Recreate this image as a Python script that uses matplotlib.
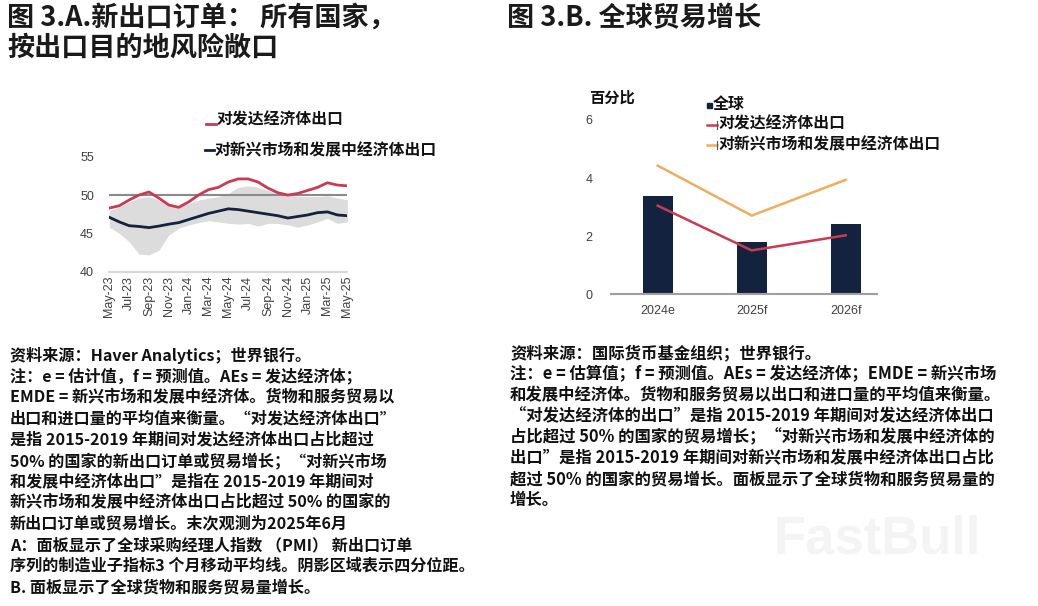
import matplotlib
matplotlib.use("Agg")
import matplotlib.pyplot as plt
from matplotlib.lines import Line2D

plt.rcParams['font.family'] = ['Noto Sans CJK SC', 'DejaVu Sans']

# ---------------- Data: panel A ----------------
months = ["May-23", "Jun-23", "Jul-23", "Aug-23", "Sep-23", "Oct-23", "Nov-23", "Dec-23",
          "Jan-24", "Feb-24", "Mar-24", "Apr-24", "May-24", "Jun-24", "Jul-24", "Aug-24",
          "Sep-24", "Oct-24", "Nov-24", "Dec-24", "Jan-25", "Feb-25", "Mar-25", "Apr-25", "May-25"]
ae_exports = [48.3, 48.6, 49.35, 50.0, 50.4, 49.6, 48.7, 48.4, 49.1, 50.0, 50.7, 51.0, 51.7,
              52.1, 52.1, 51.7, 50.9, 50.3, 50.0, 50.2, 50.6, 51.0, 51.6, 51.3, 51.2]
emde_exports = [47.1, 46.5, 46.0, 45.9, 45.75, 45.95, 46.2, 46.4, 46.8, 47.2, 47.6, 47.9, 48.2,
                48.1, 47.9, 47.7, 47.5, 47.3, 47.0, 47.2, 47.4, 47.7, 47.8, 47.4, 47.3]
iqr_upper = [48.0, 48.4, 49.1, 49.6, 49.8, 49.35, 48.7, 48.5, 48.9, 49.35, 49.6, 49.8, 50.2,
             51.0, 51.2, 51.0, 50.6, 50.2, 50.0, 49.8, 49.8, 49.8, 49.9, 49.6, 49.4]
iqr_lower = [45.8, 45.0, 43.9, 42.3, 42.2, 42.8, 44.8, 45.65, 46.1, 46.4, 46.65, 46.5, 46.3,
             46.2, 46.3, 45.95, 46.3, 46.3, 46.1, 45.8, 46.1, 46.5, 46.95, 46.3, 46.5]
yticks_a = [40, 45, 50, 55]

# ---------------- Data: panel B ----------------
years = ["2024e", "2025f", "2026f"]
world_growth = [3.4, 1.79, 2.41]
ae_growth = [3.05, 1.51, 2.03]
emde_growth = [4.43, 2.71, 3.94]
yticks_b = [0, 2, 4, 6]

RED = "#cc3a52"
NAVY = "#13233f"
ORANGE = "#efae5c"
BAND = "#dcdcdc"
TICK = "#404040"

W, H = 1038, 606
fig = plt.figure(figsize=(W / 100, H / 100), dpi=100)
fig.patch.set_facecolor("white")


def fx(px):
    return px / W


def fy(py):
    return 1 - py / H


# faint watermark
fig.text(fx(877), fy(540), "FastBull", fontsize=38, fontweight="bold", va="center",
         ha="center", color="#f4f4f4", family=["Liberation Sans"], zorder=0)

# ---------- Panel A ----------
axA = fig.add_axes([fx(109.3), fy(271.7), fx(238), 115 / H])
xs = list(range(len(months)))
axA.fill_between(xs, iqr_lower, iqr_upper, color=BAND, linewidth=0, zorder=1)
axA.axhline(50, color="#8a8a8a", linewidth=1.5, zorder=2)
axA.plot(xs, ae_exports, color=RED, linewidth=2.0, zorder=3)
axA.plot(xs, emde_exports, color=NAVY, linewidth=2.0, zorder=3)
axA.set_xlim(0, len(months) - 1)
axA.set_ylim(40, 55)
axA.set_yticks(yticks_a)
axA.set_yticklabels([str(v) for v in yticks_a], fontsize=9, color=TICK, family=["Liberation Sans"])
axA.set_xticks(xs[::2])
axA.set_xticklabels(months[::2], rotation=90, fontsize=9, color=TICK, family=["Liberation Sans"])
axA.tick_params(axis="both", length=0)
axA.tick_params(axis="y", pad=11)
axA.tick_params(axis="x", pad=3)
for s in ["top", "right", "left"]:
    axA.spines[s].set_visible(False)
axA.spines["bottom"].set_color("#d0d0d0")
axA.spines["bottom"].set_linewidth(1.2)
axA.set_facecolor("none")

# legend A
fig.add_artist(Line2D([fx(206), fx(216)], [fy(124), fy(124)], color=RED, linewidth=2))
fig.text(fx(216), fy(120), "对发达经济体出口", fontsize=11.4, fontweight="bold",
         va="center", ha="left", color="#111111")
fig.add_artist(Line2D([fx(205), fx(214)], [fy(150), fy(150)], color=NAVY, linewidth=2))
fig.text(fx(214), fy(150), "对新兴市场和发展中经济体出口", fontsize=11.4, fontweight="bold",
         va="center", ha="left", color="#111111")

# ---------- Panel B ----------
axB = fig.add_axes([fx(610.7), fy(294.3), fx(266), 174.3 / H])
xb = list(range(len(years)))
axB.bar(xb, world_growth, width=0.32, color=NAVY, zorder=2)
axB.plot(xb, ae_growth, color=RED, linewidth=1.8, zorder=3)
axB.plot(xb, emde_growth, color=ORANGE, linewidth=1.8, zorder=3)
axB.set_xlim(-0.5, 2.33)
axB.set_ylim(0, 6)
axB.set_yticks(yticks_b)
axB.set_yticklabels([str(v) for v in yticks_b], fontsize=9, color=TICK, family=["Liberation Sans"])
axB.set_xticks(xb)
axB.set_xticklabels(years, fontsize=9, color=TICK, family=["Liberation Sans"])
axB.tick_params(axis="both", length=0)
axB.tick_params(axis="y", pad=13)
axB.tick_params(axis="x", pad=8)
for s in ["top", "right", "left"]:
    axB.spines[s].set_visible(False)
axB.spines["bottom"].set_color("#a0a0a0")
axB.spines["bottom"].set_linewidth(1.5)
axB.set_facecolor("none")

fig.text(fx(589), fy(98), "百分比", fontsize=11, fontweight="bold", va="center", ha="left",
         color="#111111")
# legend B
fig.patches.append(plt.Rectangle((fx(706.5), fy(108)), fx(5), 5 / H, color=NAVY,
                                 transform=fig.transFigure, figure=fig))
fig.text(fx(713), fy(104), "全球", fontsize=11.4, fontweight="bold", va="center", ha="left",
         color="#111111")
fig.add_artist(Line2D([fx(707), fx(717)], [fy(125), fy(125)], color=RED, linewidth=1.8))
fig.add_artist(Line2D([fx(717), fx(717)], [fy(121), fy(129)], color="#555555", linewidth=0.8))
fig.text(fx(718), fy(124), "对发达经济体出口", fontsize=11.4, fontweight="bold", va="center",
         ha="left", color="#111111")
fig.add_artist(Line2D([fx(707), fx(717)], [fy(145), fy(145)], color=ORANGE, linewidth=1.8))
fig.add_artist(Line2D([fx(717), fx(717)], [fy(141), fy(149)], color="#555555", linewidth=0.8))
fig.text(fx(718), fy(144), "对新兴市场和发展中经济体出口", fontsize=11.4, fontweight="bold",
         va="center", ha="left", color="#111111")

# ---------- Titles ----------
fig.text(fx(7), fy(18), "图 3.A.新出口订单： 所有国家，", fontsize=19.5, fontweight="bold",
         va="center", ha="left", color="#1a1a1a")
fig.text(fx(7), fy(48), "按出口目的地风险敞口", fontsize=19.5, fontweight="bold",
         va="center", ha="left", color="#1a1a1a")
fig.text(fx(507), fy(18), "图 3.B. 全球贸易增长", fontsize=19.5, fontweight="bold",
         va="center", ha="left", color="#1a1a1a")

# ---------- Notes ----------
notes_a = [
    "资料来源：Haver Analytics；世界银行。",
    "注：e = 估计值，f = 预测值。AEs = 发达经济体；",
    "EMDE = 新兴市场和发展中经济体。货物和服务贸易以",
    "出口和进口量的平均值来衡量。“对发达经济体出口”",
    "是指 2015-2019 年期间对发达经济体出口占比超过",
    "50% 的国家的新出口订单或贸易增长；“对新兴市场",
    "和发展中经济体出口”是指在 2015-2019 年期间对",
    "新兴市场和发展中经济体出口占比超过 50% 的国家的",
    "新出口订单或贸易增长。末次观测为2025年6月",
    "A：面板显示了全球采购经理人指数 （PMI） 新出口订单",
    "序列的制造业子指标3 个月移动平均线。阴影区域表示四分位距。",
    "B. 面板显示了全球货物和服务贸易量增长。",
]
for i, line in enumerate(notes_a):
    fig.text(fx(10), fy(355 + 21.1 * i), line, fontsize=11.6, fontweight="bold",
             va="center", ha="left", color="#111111")

notes_b = [
    "资料来源：国际货币基金组织；世界银行。",
    "注：e = 估算值；f = 预测值。AEs = 发达经济体；EMDE = 新兴市场",
    "和发展中经济体。货物和服务贸易以出口和进口量的平均值来衡量。",
    "“对发达经济体的出口”是指 2015-2019 年期间对发达经济体出口",
    "占比超过 50% 的国家的贸易增长；“对新兴市场和发展中经济体的",
    "出口”是指 2015-2019 年期间对新兴市场和发展中经济体出口占比",
    "超过 50% 的国家的贸易增长。面板显示了全球货物和服务贸易量的",
    "增长。",
]
for i, line in enumerate(notes_b):
    fig.text(fx(510), fy(353 + 21 * i), line, fontsize=11.8, fontweight="bold",
             va="center", ha="left", color="#111111")

fig.savefig("out.png", dpi=100)
